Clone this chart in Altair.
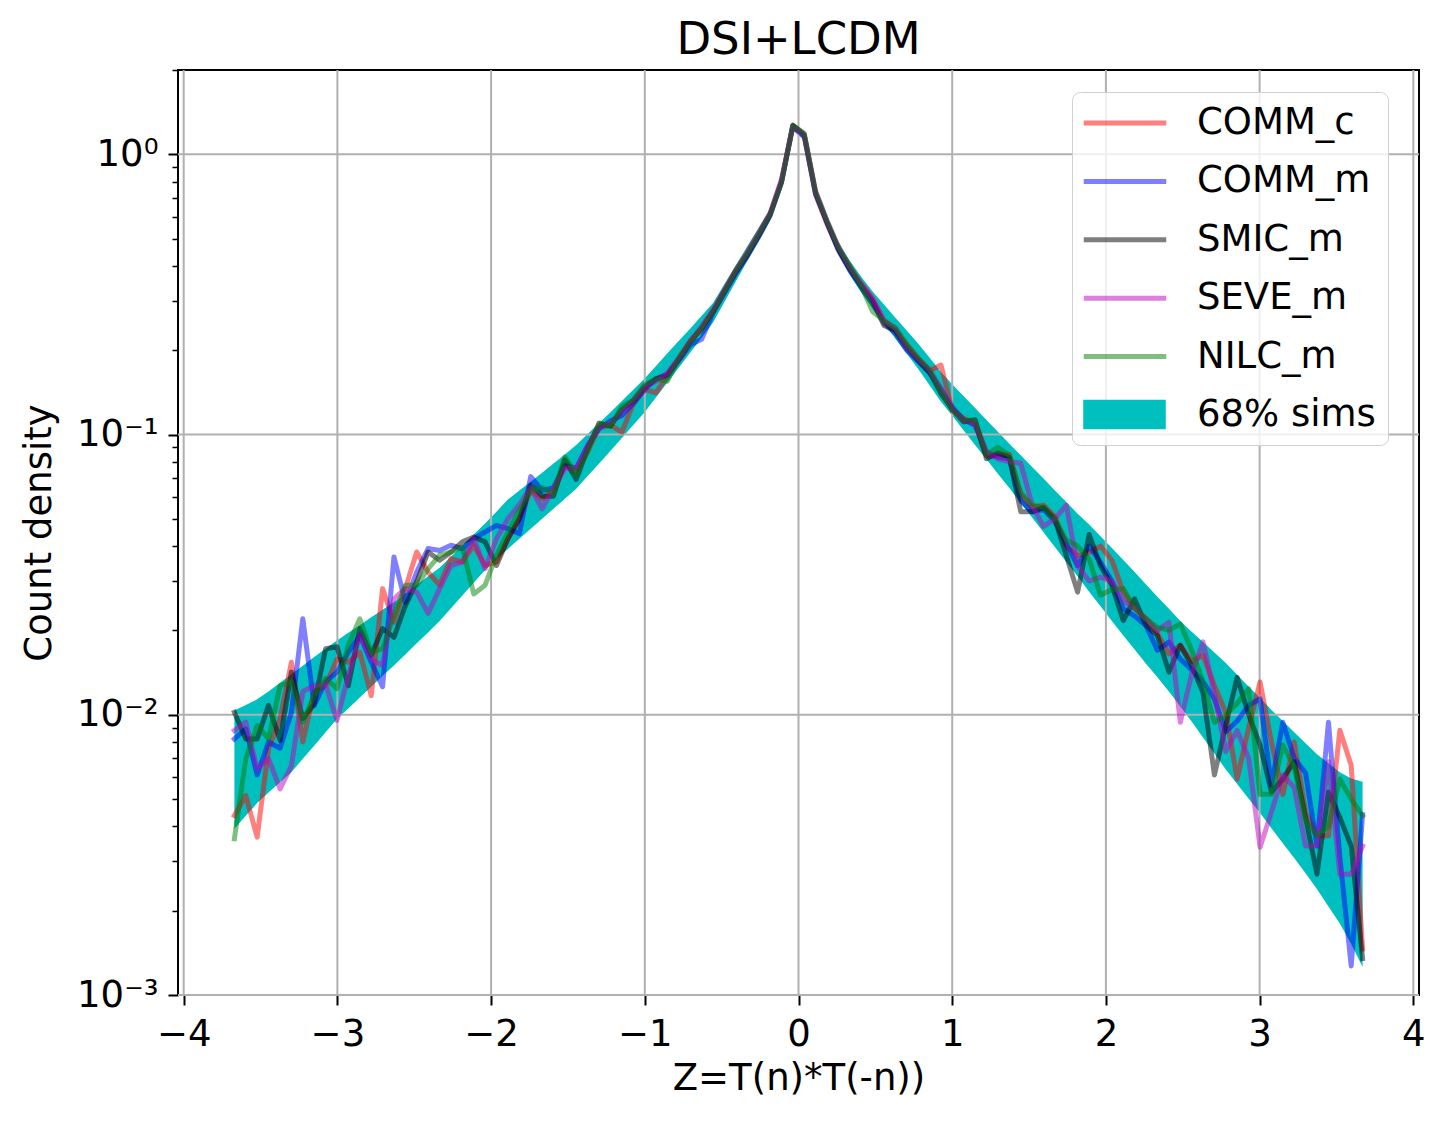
import altair as alt
import pandas as pd

# ---------------- data ----------------
x_centers = [
    -3.670, -3.596, -3.522, -3.448, -3.373, -3.299, -3.225, -3.151, -3.077, -3.003,
    -2.929, -2.854, -2.780, -2.706, -2.632, -2.558, -2.484, -2.410, -2.335, -2.261,
    -2.187, -2.113, -2.039, -1.965, -1.891, -1.816, -1.742, -1.668, -1.594, -1.520,
    -1.446, -1.372, -1.297, -1.223, -1.149, -1.075, -1.001, -0.927, -0.853, -0.778,
    -0.704, -0.630, -0.556, -0.482, -0.408, -0.334, -0.259, -0.185, -0.111, -0.037,
    0.037, 0.111, 0.185, 0.259, 0.334, 0.408, 0.482, 0.556, 0.630, 0.704,
    0.778, 0.853, 0.927, 1.001, 1.075, 1.149, 1.223, 1.297, 1.372, 1.446,
    1.520, 1.594, 1.668, 1.742, 1.816, 1.891, 1.965, 2.039, 2.113, 2.187,
    2.261, 2.335, 2.410, 2.484, 2.558, 2.632, 2.706, 2.780, 2.854, 2.929,
    3.003, 3.077, 3.151, 3.225, 3.299, 3.373, 3.448, 3.522, 3.596, 3.670,
]

comm_c = [
    0.00437, 0.00515, 0.00366, 0.00757, 0.00968, 0.0154, 0.0080, 0.0121, 0.0127, 0.0158,
    0.0154, 0.0167, 0.0117, 0.0282, 0.0214, 0.0282, 0.0381, 0.0323, 0.0290, 0.0361,
    0.0351, 0.0403, 0.0341, 0.0351, 0.0425, 0.0501, 0.0631, 0.0589, 0.0631, 0.0776,
    0.0741, 0.0871, 0.106, 0.108, 0.102, 0.129, 0.145, 0.141, 0.162, 0.186,
    0.216, 0.237, 0.275, 0.327, 0.385, 0.442, 0.519, 0.610, 0.804, 1.26,
    1.17, 0.72, 0.565, 0.46, 0.395, 0.345, 0.305, 0.255, 0.235, 0.21,
    0.187, 0.169, 0.177, 0.122, 0.114, 0.109, 0.084, 0.084, 0.085, 0.061,
    0.055, 0.056, 0.051, 0.040, 0.037, 0.038, 0.040, 0.0356, 0.0274, 0.024,
    0.022, 0.0195, 0.0165, 0.0177, 0.0155, 0.0163, 0.0127, 0.0102, 0.0059, 0.0090,
    0.0131, 0.0080, 0.0052, 0.0080, 0.0045, 0.0037, 0.0037, 0.0088, 0.0066, 0.00146,
]

comm_m = [
    0.0082, 0.0089, 0.0061, 0.0080, 0.0076, 0.0102, 0.0220, 0.0108, 0.0131, 0.0142,
    0.0167, 0.0192, 0.0154, 0.0126, 0.0366, 0.0252, 0.0323, 0.0392, 0.0386, 0.0403,
    0.0392, 0.0425, 0.0449, 0.0474, 0.0462, 0.0443, 0.0708, 0.0631, 0.0646, 0.0776,
    0.0759, 0.0912, 0.105, 0.112, 0.117, 0.129, 0.145, 0.158, 0.162, 0.184,
    0.209, 0.219, 0.272, 0.320, 0.376, 0.432, 0.507, 0.603, 0.794, 1.26,
    1.16, 0.72, 0.57, 0.455, 0.385, 0.335, 0.295, 0.25, 0.23, 0.20,
    0.183, 0.166, 0.145, 0.125, 0.113, 0.108, 0.086, 0.083, 0.082, 0.058,
    0.053, 0.054, 0.049, 0.041, 0.034, 0.040, 0.035, 0.030, 0.0239, 0.0225,
    0.0208, 0.0170, 0.0182, 0.0158, 0.0145, 0.0131, 0.0114, 0.0087, 0.0095, 0.0108,
    0.0114, 0.0056, 0.0094, 0.0070, 0.0062, 0.0034, 0.0094, 0.0031, 0.00127, 0.0044,
]

smic_m = [
    0.0102, 0.0082, 0.0082, 0.0108, 0.0081, 0.0142, 0.0097, 0.0109, 0.0172, 0.0175,
    0.0127, 0.0203, 0.0163, 0.0203, 0.0189, 0.0245, 0.0298, 0.0381, 0.0356, 0.0381,
    0.0414, 0.0431, 0.0414, 0.0341, 0.0425, 0.0501, 0.0661, 0.0603, 0.0603, 0.0813,
    0.0692, 0.0891, 0.1096, 0.1072, 0.123, 0.132, 0.148, 0.158, 0.164, 0.186,
    0.214, 0.240, 0.275, 0.324, 0.380, 0.437, 0.513, 0.610, 0.794, 1.27,
    1.18, 0.73, 0.575, 0.46, 0.39, 0.34, 0.30, 0.245, 0.235, 0.205,
    0.184, 0.167, 0.140, 0.123, 0.111, 0.113, 0.082, 0.086, 0.083, 0.053,
    0.053, 0.055, 0.050, 0.037, 0.0274, 0.044, 0.034, 0.029, 0.0217, 0.0259,
    0.0208, 0.0192, 0.0142, 0.0177, 0.0150, 0.0120, 0.0061, 0.0092, 0.0136, 0.0100,
    0.0078, 0.0053, 0.0059, 0.0068, 0.0043, 0.0027, 0.0053, 0.0043, 0.0034, 0.00135,
]

seve_m = [
    0.00879, 0.00942, 0.00641, 0.00697, 0.00544, 0.00659, 0.0121, 0.0127, 0.0129, 0.00955,
    0.0138, 0.0192, 0.0158, 0.0150, 0.0259, 0.0282, 0.0274, 0.0230, 0.0282, 0.0341,
    0.0351, 0.0425, 0.0332, 0.0425, 0.050, 0.0562, 0.0646, 0.0543, 0.0646, 0.0759,
    0.0759, 0.0912, 0.107, 0.110, 0.120, 0.133, 0.148, 0.155, 0.166, 0.188,
    0.216, 0.243, 0.279, 0.327, 0.385, 0.447, 0.525, 0.617, 0.813, 1.26,
    1.17, 0.74, 0.58, 0.47, 0.395, 0.345, 0.305, 0.255, 0.24, 0.205,
    0.186, 0.170, 0.146, 0.123, 0.112, 0.110, 0.087, 0.082, 0.080, 0.079,
    0.056, 0.047, 0.050, 0.056, 0.034, 0.030, 0.031, 0.030, 0.0255, 0.024,
    0.022, 0.020, 0.0214, 0.0094, 0.0140, 0.0182, 0.0118, 0.0074, 0.0088, 0.0070,
    0.00337, 0.0045, 0.0061, 0.0055, 0.0034, 0.0034, 0.0068, 0.0027, 0.0027, 0.0034,
]

nilc_m = [
    0.00361, 0.00697, 0.00916, 0.0082, 0.0127, 0.0131, 0.00942, 0.0117, 0.0135, 0.0124,
    0.0177, 0.0220, 0.0167, 0.0172, 0.0226, 0.0290, 0.0290, 0.0332, 0.0371, 0.0381,
    0.0397, 0.0270, 0.0290, 0.0371, 0.0449, 0.0537, 0.0631, 0.0646, 0.0617, 0.0832,
    0.0724, 0.0871, 0.110, 0.107, 0.126, 0.133, 0.151, 0.158, 0.155, 0.188,
    0.214, 0.240, 0.275, 0.324, 0.385, 0.442, 0.519, 0.610, 0.794, 1.27,
    1.19, 0.735, 0.58, 0.465, 0.40, 0.34, 0.275, 0.255, 0.24, 0.21,
    0.188, 0.170, 0.143, 0.122, 0.113, 0.112, 0.085, 0.090, 0.084, 0.062,
    0.056, 0.055, 0.050, 0.042, 0.040, 0.036, 0.0267, 0.028, 0.0282, 0.024,
    0.022, 0.0205, 0.020, 0.0211, 0.0170, 0.0131, 0.0094, 0.0100, 0.0110, 0.0124,
    0.0052, 0.0052, 0.0078, 0.0065, 0.0042, 0.0037, 0.0040, 0.0059, 0.0050, 0.00437,
]

band_upper = [
    0.01035, 0.01084, 0.01135, 0.01211, 0.0130, 0.01396, 0.01496, 0.01607, 0.01722, 0.01841,
    0.01963, 0.02089, 0.02228, 0.02371, 0.02523, 0.02710, 0.02904, 0.03119, 0.03350, 0.03664,
    0.04018, 0.04395, 0.04819, 0.05309, 0.05861, 0.0631, 0.06792, 0.07311, 0.07889, 0.08492,
    0.09183, 0.1005, 0.1099, 0.1202, 0.1318, 0.1445, 0.1585, 0.1758, 0.1950, 0.2163,
    0.2393, 0.2655, 0.2951, 0.3443, 0.4018, 0.4688, 0.5470, 0.6383, 0.8279, 1.303,
    1.202, 0.7551, 0.5957, 0.4864, 0.4169, 0.3656, 0.3243, 0.2911, 0.2612, 0.2350,
    0.2113, 0.1879, 0.1671, 0.1510, 0.1371, 0.1245, 0.1127, 0.1023, 0.0927, 0.0843,
    0.0766, 0.0697, 0.0632, 0.0575, 0.0522, 0.0478, 0.0434, 0.0394, 0.0357, 0.0323,
    0.0292, 0.0264, 0.0239, 0.0216, 0.0198, 0.0182, 0.0167, 0.0153, 0.0139, 0.0126,
    0.0115, 0.0104, 0.00951, 0.00867, 0.00791, 0.00723, 0.00671, 0.00624, 0.00593, 0.00577,
]

band_lower = [
    0.00392, 0.00436, 0.00484, 0.00528, 0.00575, 0.00624, 0.00697, 0.00776, 0.00867, 0.00966,
    0.01054, 0.01153, 0.01259, 0.01377, 0.01500, 0.01641, 0.01799, 0.01968, 0.02163, 0.02399,
    0.02667, 0.02958, 0.03289, 0.03589, 0.03908, 0.04246, 0.04613, 0.05012, 0.05433, 0.05902,
    0.06412, 0.07112, 0.07889, 0.08750, 0.09727, 0.1081, 0.1202, 0.1358, 0.1535, 0.1734,
    0.1963, 0.2218, 0.2512, 0.2972, 0.3516, 0.4159, 0.4920, 0.5821, 0.7621, 1.216,
    1.122, 0.6950, 0.5433, 0.4395, 0.3715, 0.3214, 0.2812, 0.2489, 0.2203, 0.1945,
    0.1718, 0.1500, 0.1309, 0.1167, 0.1035, 0.0918, 0.0817, 0.0724, 0.0644, 0.0570,
    0.0506, 0.0448, 0.0397, 0.0352, 0.0312, 0.0275, 0.0244, 0.0216, 0.0192, 0.0171,
    0.0152, 0.0136, 0.0121, 0.0107, 0.00946, 0.00830, 0.00728, 0.00638, 0.00566, 0.00502,
    0.00446, 0.00394, 0.00348, 0.00308, 0.00272, 0.00239, 0.00207, 0.00180, 0.00152, 0.00126,
]

series_names = ["COMM_c", "COMM_m", "SMIC_m", "SEVE_m", "NILC_m"]
series_values = [comm_c, comm_m, smic_m, seve_m, nilc_m]
series_colors = ["#ff0000", "#0000ff", "#000000", "#bf00bf", "#008000"]
band_name = "68% sims"
band_color = "#00bfbf"
chart_title = "DSI+LCDM"

x_ticks = [-4, -3, -2, -1, 0, 1, 2, 3, 4]
y_major = [0.001, 0.01, 0.1, 1]
y_minor = [0.002, 0.003, 0.004, 0.005, 0.006, 0.007, 0.008, 0.009,
           0.02, 0.03, 0.04, 0.05, 0.06, 0.07, 0.08, 0.09,
           0.2, 0.3, 0.4, 0.5, 0.6, 0.7, 0.8, 0.9, 2]

# ---------------- tables ----------------
rows = []
for name, vals in zip(series_names, series_values):
    for xv, yv in zip(x_centers, vals):
        rows.append({"x": xv, "value": yv, "series": name})
lines_df = pd.DataFrame(rows)
band_df = pd.DataFrame({"x": x_centers, "upper": band_upper, "lower": band_lower,
                        "band": band_name})
xgrid_df = pd.DataFrame({"t": x_ticks})
ygrid_df = pd.DataFrame({"t": y_major})
title_df = pd.DataFrame({"label": [chart_title]})

FONT = "DejaVu Sans"
FS = 37
GRID = "#b0b0b0"
W, H = 1241, 925
LEG_X = 894
LEG_Y = 22
ROW_PAD = 21.4
ROW_PITCH = FS + ROW_PAD

x_scale = alt.Scale(domain=[-4.037, 4.037], nice=False, zero=False)
y_scale = alt.Scale(type="log", domain=[0.001, 2.0], nice=False)
# the 6th (band) entry only gives the legend its text row; its line is invisible
stroke_scale = alt.Scale(domain=series_names + [band_name],
                         range=series_colors + ["rgba(0,0,0,0)"])
fill_scale = alt.Scale(domain=[band_name], range=[band_color])

IS_MAJOR = "indexof([0.001, 0.01, 0.1, 1], datum.value) >= 0"

x_axis = alt.Axis(
    values=x_ticks, orient="bottom", title="Z=T(n)*T(-n))", format="d",
    tickSize=10, tickWidth=2, tickColor="black", domain=False, grid=False,
    labelFont=FONT, labelFontSize=FS, labelColor="black", labelPadding=11,
    titleFont=FONT, titleFontSize=FS, titleFontWeight="normal", titleColor="black",
    titlePadding=8,
)
y_axis = alt.Axis(
    values=y_major + y_minor, orient="left", title="Count density",
    labelExpr=("!(" + IS_MAJOR + ") ? '' : datum.value >= 1 ? '10\u2070' : "
               "datum.value >= 0.1 ? '10\u207b\u00b9' : datum.value >= 0.01 ? "
               "'10\u207b\u00b2' : '10\u207b\u00b3'"),
    tickSize={"condition": {"test": IS_MAJOR, "value": 10}, "value": 6},
    tickWidth={"condition": {"test": IS_MAJOR, "value": 2}, "value": 1.5},
    tickColor="black", domain=False, grid=False, labelOverlap=False,
    labelFont=FONT, labelFontSize=FS, labelColor="black", labelPadding=10,
    titleFont=FONT, titleFontSize=FS, titleFontWeight="normal", titleColor="black",
    titlePadding=18,
)

common_legend = dict(
    title=None, orient="none", symbolSize=1089, symbolOffset=22,
    labelFont=FONT, labelFontSize=FS, labelColor="black", labelOffset=53,
    labelLimit=500, rowPadding=ROW_PAD, padding=12,
)
line_legend = alt.Legend(
    legendX=LEG_X, legendY=LEG_Y,
    symbolType="M-2.5,0L2.5,0", symbolStrokeWidth=5, symbolOpacity=0.5,
    fillColor="rgba(255,255,255,0.8)", strokeColor="#d0d0d0", cornerRadius=8,
    zindex=1, **common_legend,
)
band_legend = alt.Legend(
    legendX=LEG_X, legendY=LEG_Y + 5 * ROW_PITCH,
    symbolType="M-2.5,-0.9L2.5,-0.9L2.5,0.9L-2.5,0.9Z", symbolOpacity=1,
    symbolStrokeWidth=0, labelOpacity=0, zindex=2, **common_legend,
)

# every layer carries the same explicit axes so that they merge cleanly
band = alt.Chart(band_df).mark_area(opacity=1).encode(
    x=alt.X("x:Q", scale=x_scale, axis=x_axis),
    y=alt.Y("upper:Q", scale=y_scale, axis=y_axis),
    y2="lower:Q",
    fill=alt.Fill("band:N", scale=fill_scale, legend=band_legend),
)

xgrid = alt.Chart(xgrid_df).mark_rule(color=GRID, strokeWidth=2).encode(
    x=alt.X("t:Q", scale=x_scale, axis=x_axis),
)
ygrid = alt.Chart(ygrid_df).mark_rule(color=GRID, strokeWidth=2).encode(
    y=alt.Y("t:Q", scale=y_scale, axis=y_axis),
)

line_layers = []
for name in series_names:
    line_layers.append(
        alt.Chart(lines_df).transform_filter(alt.datum.series == name)
        .mark_line(strokeWidth=5, opacity=0.5, strokeJoin="round", strokeCap="square")
        .encode(
            x=alt.X("x:Q", scale=x_scale, axis=x_axis),
            y=alt.Y("value:Q", scale=y_scale, axis=y_axis),
            stroke=alt.Stroke("series:N", scale=stroke_scale, legend=line_legend),
        )
    )

title_layer = alt.Chart(title_df).mark_text(
    font=FONT, fontSize=45, color="black", align="center", baseline="alphabetic",
).encode(text="label:N", x=alt.value(W / 2), y=alt.value(-16))

chart = (
    alt.layer(band, xgrid, ygrid, *line_layers, title_layer)
    .properties(
        width=W, height=H, background="white",
        padding={"left": 170, "top": 62, "right": 18, "bottom": 120},
        autosize=alt.AutoSizeParams(type="none"),
    )
    .configure_view(stroke="black", strokeWidth=2)
)

chart.save("out.html", embed_options={"renderer": "svg", "actions": False})
